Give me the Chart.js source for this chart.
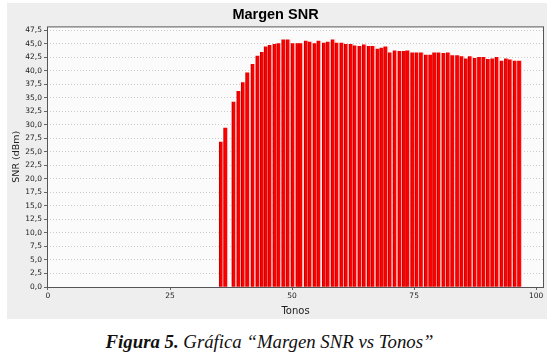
<!DOCTYPE html>
<html>
<head>
<meta charset="utf-8">
<script src="https://cdn.jsdelivr.net/npm/chart.js@4/dist/chart.umd.min.js"></script>
<style>
  body { margin: 0; background: #fff; width: 547px; height: 356px; position: relative; overflow: hidden; }
  #snr { position: absolute; left: 7px; top: 3px; }
  #caption {
    position: absolute; left: 0; top: 333px; width: 539px; text-align: center;
    font-family: 'Liberation Serif', serif; font-style: italic; font-size: 18.8px; line-height: 17px; color: #111;
  }
</style>
</head>
<body>
<canvas id="snr" width="540" height="316"></canvas>
<div id="caption"><b>Figura 5.</b> Gráfica “Margen SNR vs Tonos”</div>
<script>
let tonos = [35.5, 36.4, 38.1, 39.1, 40.0, 40.9, 42.0, 43.0, 43.9, 44.7,
  45.5, 46.5, 47.3, 48.3, 49.2, 50.2, 51.2, 51.8, 52.9, 53.7,
  54.7, 55.5, 56.6, 57.4, 58.4, 59.2, 60.2, 61.1, 62.1, 62.9,
  63.9, 64.8, 65.8, 66.6, 67.6, 68.4, 69.2, 70.1, 71.1, 72.1,
  73.0, 73.7, 74.7, 75.6, 76.5, 77.5, 78.4, 79.2, 80.1, 81.1,
  82.0, 82.9, 83.9, 84.8, 85.7, 86.5, 87.5, 88.4, 89.3, 90.2,
  91.1, 92.0, 93.0, 93.9, 94.7, 95.7, 96.6]
let snr = [26.8, 29.4, 34.2, 36.2, 37.8, 39.6, 41.2, 42.7, 43.4, 44.4,
  44.7, 44.9, 45.0, 45.7, 45.7, 45.0, 45.0, 45.0, 45.5, 45.3,
  45.0, 45.5, 45.1, 45.3, 45.7, 45.1, 45.1, 44.9, 44.9, 44.6,
  44.5, 44.8, 44.5, 44.5, 44.0, 44.2, 44.4, 43.3, 43.7, 43.6,
  43.6, 43.7, 43.3, 43.3, 43.3, 42.9, 42.9, 43.3, 43.3, 43.2,
  43.3, 42.8, 42.8, 42.6, 42.2, 42.6, 42.3, 42.5, 42.5, 42.1,
  42.2, 42.5, 41.8, 42.2, 42.0, 41.8, 41.8]
let xTicks = [0, 25, 50, 75, 100]

let puntos = tonos.map((t, i) => ({x: t, y: snr[i]}))

function barColor(ctx) {
  let chart = ctx.chart
  if (!chart.scales.x || !ctx.raw) return '#ff0000'
  let cx = chart.scales.x.getPixelForValue(ctx.raw.x)
  if (!isFinite(cx)) return '#ff0000'
  let g = chart.ctx.createLinearGradient(cx - 2, 0, cx + 2, 0)
  g.addColorStop(0, '#b00000')
  g.addColorStop(0.15, '#e00000')
  g.addColorStop(0.25, '#ff0000')
  g.addColorStop(0.72, '#ff0000')
  g.addColorStop(0.85, '#ff9a9a')
  g.addColorStop(1, '#ffc0c0')
  return g
}

let panel = {
  id: 'panel',
  beforeDraw(chart) {
    let c = chart.ctx, a = chart.chartArea
    c.save()
    c.fillStyle = '#eeeeee'
    c.fillRect(0, 0, chart.width, chart.height)
    c.fillStyle = '#fbfbfb'
    c.fillRect(a.left, a.top, a.right - a.left, a.bottom - a.top)
    c.restore()
  },
  afterDraw(chart) {
    let c = chart.ctx, a = chart.chartArea
    c.save()
    c.strokeStyle = '#555555'
    c.lineWidth = 1
    c.strokeRect(a.left + 0.5, a.top + 0.5, a.right - a.left - 1, a.bottom - a.top)
    c.restore()
  }
}

let tickFont = {family: 'DejaVu Sans', size: 7.5}

new Chart(document.getElementById('snr'), {
  type: 'bar',
  data: {
    datasets: [{
      label: 'SNR',
      data: puntos,
      backgroundColor: barColor,
      borderWidth: 0,
      barThickness: 4
    }]
  },
  options: {
    responsive: false,
    animation: false,
    devicePixelRatio: 1,
    layout: {padding: {left: 0, right: 3, top: 0, bottom: 0}},
    plugins: {
      legend: {display: false},
      tooltip: {enabled: false},
      title: {
        display: true,
        text: 'Margen SNR',
        color: '#000',
        font: {family: 'Liberation Sans', size: 14.5, weight: 'bold'},
        padding: {top: 3, bottom: 3}
      }
    },
    scales: {
      x: {
        type: 'linear',
        offset: false,
        min: -0.2,
        max: 101.6,
        afterFit: s => { s.height = 32 },
        afterBuildTicks: s => { s.ticks = s.ticks.filter(t => xTicks.includes(t.value)) },
        ticks: {stepSize: 25, includeBounds: false, color: '#222', font: tickFont, padding: 2, maxRotation: 0, autoSkip: false},
        grid: {drawOnChartArea: false, offset: false, tickLength: 3, tickColor: '#666'},
        border: {display: false},
        title: {display: true, text: 'Tonos', color: '#222', font: {family: 'DejaVu Sans', size: 10}, padding: {top: 0, bottom: 2}}
      },
      y: {
        min: 0,
        max: 48.2,
        afterFit: s => { s.width = 40 },
        afterBuildTicks: s => { s.ticks = s.ticks.filter(t => Math.abs(t.value / 2.5 - Math.round(t.value / 2.5)) < 1e-6) },
        ticks: {stepSize: 2.5, includeBounds: false, autoSkip: false, color: '#222', font: tickFont, padding: 2, callback: v => v.toFixed(1).replace('.', ',')},
        grid: {color: '#cccccc', tickLength: 3, tickColor: '#666'},
        border: {display: false, dash: [1, 2]},
        title: {display: true, text: 'SNR (dBm)', color: '#222', font: {family: 'DejaVu Sans', size: 9.5}, padding: {top: 4, bottom: 0}}
      }
    }
  },
  plugins: [panel]
})
</script>
</body>
</html>
